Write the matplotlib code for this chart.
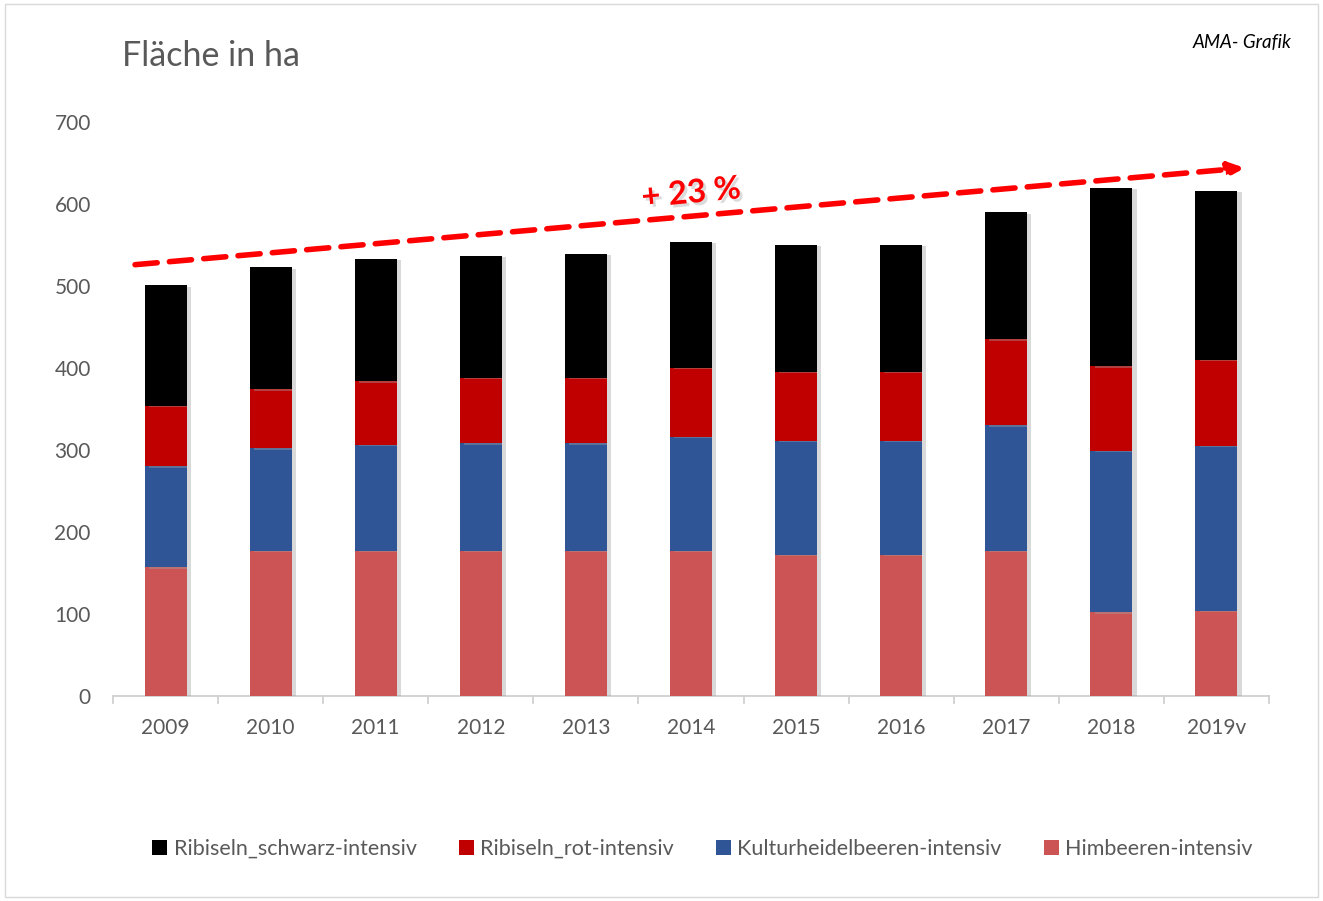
import matplotlib
matplotlib.use("Agg")
import matplotlib.pyplot as plt
import matplotlib.patheffects as pe
import numpy as np

# Daten (Fläche in ha, Segmenthöhen je Jahr)
jahre = ['2009', '2010', '2011', '2012', '2013', '2014', '2015', '2016', '2017', '2018', '2019v']
himbeeren = [157, 177, 177, 177, 177, 177, 172, 172, 177, 102, 104]
kulturheidelbeeren = [123, 125, 129, 131, 131, 139, 139, 139, 153, 197, 201]
ribiseln_rot = [74, 72, 78, 80, 80, 84, 84, 84, 105, 103, 105]
ribiseln_schwarz = [147, 149, 149, 149, 151, 154, 155, 155, 155, 218, 206]

plt.rcParams['font.family'] = ['Lato', 'DejaVu Sans']
grau = '#595959'

fig = plt.figure(figsize=(13.23, 9.01), dpi=100)
ax = fig.add_axes([0.0854, 0.2275, 0.8738, 0.6371])

x = np.arange(len(jahre))
w = 0.4
schatten = [pe.SimplePatchShadow(offset=(3, -1), shadow_rgbFace='#a0a0a0', alpha=0.4), pe.Normal()]

serien = [
    ('Himbeeren-intensiv', himbeeren, '#CD5454'),
    ('Kulturheidelbeeren-intensiv', kulturheidelbeeren, '#2F5597'),
    ('Ribiseln_rot-intensiv', ribiseln_rot, '#C00000'),
    ('Ribiseln_schwarz-intensiv', ribiseln_schwarz, '#000000'),
]
boden = np.zeros(len(jahre))
handles = {}
for name, werte, farbe in serien:
    b = ax.bar(x, werte, w, bottom=boden, color=farbe, label=name, zorder=3)
    for p in b:
        p.set_path_effects(schatten)
    handles[name] = b
    boden += np.array(werte)

ax.set_xlim(-0.5, len(jahre) - 0.5)
ax.set_ylim(0, 700)
ax.set_yticks(range(0, 701, 100))
ax.set_xticks(x)
ax.set_xticklabels(jahre)
ax.tick_params(axis='y', length=0, labelsize=15, colors=grau, pad=16)
ax.tick_params(axis='x', length=0, labelsize=15, colors=grau, pad=16)
for s in ['top', 'right', 'left']:
    ax.spines[s].set_visible(False)
ax.spines['bottom'].set_color('#d0d0d0')
ax.spines['bottom'].set_linewidth(1.3)
# Trennstriche zwischen den Kategorien
for xb in np.arange(-0.5, len(jahre), 1.0):
    ax.plot([xb, xb], [0, -0.013], transform=ax.get_xaxis_transform(), color='#d0d0d0',
            lw=1.3, clip_on=False)

# Trendpfeil
ax.annotate('', xy=(10.27, 644), xytext=(-0.29, 526),
            arrowprops=dict(arrowstyle='-|>,head_length=0.9,head_width=0.4', color='#FF0000',
                            lw=4, linestyle=(0, (4, 2.2)), shrinkA=0, shrinkB=0),
            zorder=5)
ax.text(5.0, 613, '+ 23 %', color='#FF0000', fontsize=23.5, fontweight='bold',
        rotation=5.5, ha='center', va='center', zorder=6,
        path_effects=[pe.withSimplePatchShadow(offset=(2, -2), shadow_rgbFace='#999999', alpha=0.35)])

fig.text(0.092, 0.938, 'Fläche in ha', fontsize=24.5, color=grau, va='center', ha='left')
fig.text(0.976, 0.953, 'AMA- Grafik', fontsize=13.5, style='italic', color='black',
         va='center', ha='right')

reihenfolge = ['Ribiseln_schwarz-intensiv', 'Ribiseln_rot-intensiv',
               'Kulturheidelbeeren-intensiv', 'Himbeeren-intensiv']
leg = fig.legend([handles[n] for n in reihenfolge], reihenfolge, loc='center',
                 bbox_to_anchor=(0.531, 0.058), ncol=4, frameon=False, fontsize=15.5,
                 handlelength=0.7, handleheight=0.7, handletextpad=0.3, columnspacing=1.95)
for t in leg.get_texts():
    t.set_color(grau)
for h in leg.legend_handles:
    h.set_path_effects([])

# Rahmen um die Grafik
rahmen = plt.Rectangle((0.004, 0.004), 0.992, 0.992, transform=fig.transFigure,
                       fill=False, edgecolor='#d9d9d9', lw=1)
fig.patches.append(rahmen)

fig.savefig('out.png', dpi=100)
